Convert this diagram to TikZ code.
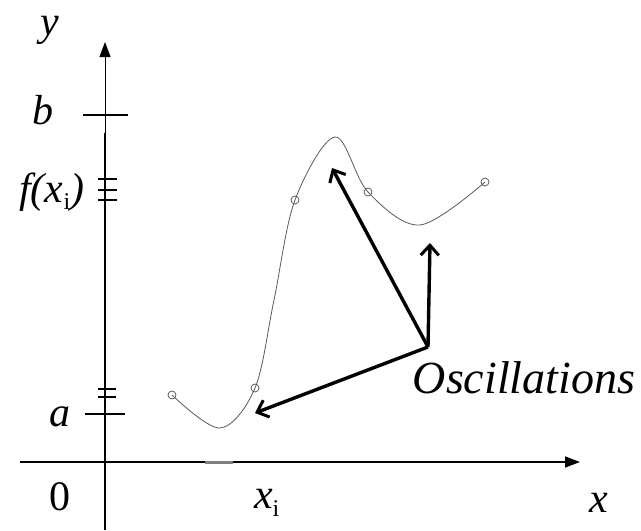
\documentclass[tikz,border=0pt]{standalone}
\usepackage{fontspec}
\setmainfont{Liberation Serif}
\usetikzlibrary{arrows.meta}

\begin{document}
\begin{tikzpicture}[
    x=1pt, y=-1pt,
    label text/.style={font=\fontsize{42}{46}\selectfont\itshape, inner sep=0pt},
    sample node/.style={circle, draw=gray!60!black, line width=0.7pt, minimum size=8pt, inner sep=0pt},
    osc arrow/.style={line width=3.4pt, -{Straight Barb[length=10pt, width=18pt, line width=3pt]}},
    axis tip/.style={-{Triangle[length=15pt, width=11pt]}}
]
    \useasboundingbox (0,0) rectangle (641,531);

    % Axes
    \coordinate (O) at (105,462);
    \coordinate (ybreak) at (105,133);
    \coordinate (ytop) at (105,42);
    \coordinate (ybot) at (105,530);
    \coordinate (xleft) at (20,462);
    \coordinate (xright) at (580,462);
    \draw[line width=1pt, axis tip] (ybreak) -- (ytop);
    \draw[line width=2.6pt] (ybot) -- (ybreak);
    \draw[line width=1.5pt, axis tip] (xleft) -- (xright);
    \coordinate (xa) at (205,462);
    \coordinate (xb) at (233,462);
    \draw[gray, line width=3pt] (xa) -- (xb);

    % Ticks on the y axis
    \coordinate (bl) at (83,115);
    \coordinate (br) at (128,115);
    \draw[line width=1.3pt] (bl) -- (br);
    \foreach \t in {179,190,200} \draw[line width=1.3pt] (98,\t) -- (117,\t);
    \foreach \t in {389,397} \draw[line width=1.3pt] (98,\t) -- (116,\t);
    \coordinate (al) at (85,414);
    \coordinate (ar) at (125,414);
    \draw[line width=1.3pt] (al) -- (ar);

    % Labels
    \node[label text] (ylab) at (50,30) {y};
    \node[label text] (blab) at (43,110) {b};
    \node[label text] (flab) at (52,192) {f(x\textsubscript{\upshape\fontsize{24}{26}\selectfont i})};
    \node[label text] (alab) at (60,417) {a};
    \node[label text, font=\fontsize{42}{46}\selectfont\upshape] (zero) at (60,497) {0};
    \node[label text] (xilab) at (267,503) {x\textsubscript{\upshape\fontsize{24}{26}\selectfont i}};
    \node[label text] (xlab) at (599,503) {x};
    \node[label text, font=\fontsize{46}{50}\selectfont\itshape] (osclab) at (524,378) {Oscillations};

    % Interpolating curve and samples
    \draw[gray!70!black, line width=0.8pt] plot[smooth, tension=0.55] coordinates {
        (172,395) (220,428) (255,388) (274,300) (295,200) (335,137)
        (368,192) (420,225) (485,182)};
    \foreach \px/\py [count=\k] in {172/395, 255/388, 295/200, 368/192, 485/182}
        \node[sample node] (s\k) at (\px,\py) {};

    % Arrows
    \coordinate (osc) at (428,347);
    \coordinate (peak) at (332,168);
    \coordinate (dip) at (430,243);
    \coordinate (low) at (255,413);
    \draw[osc arrow] (osc) -- (peak);
    \draw[osc arrow] (osc) -- (dip);
    \draw[osc arrow] (osc) -- (low);
\end{tikzpicture}
\end{document}
